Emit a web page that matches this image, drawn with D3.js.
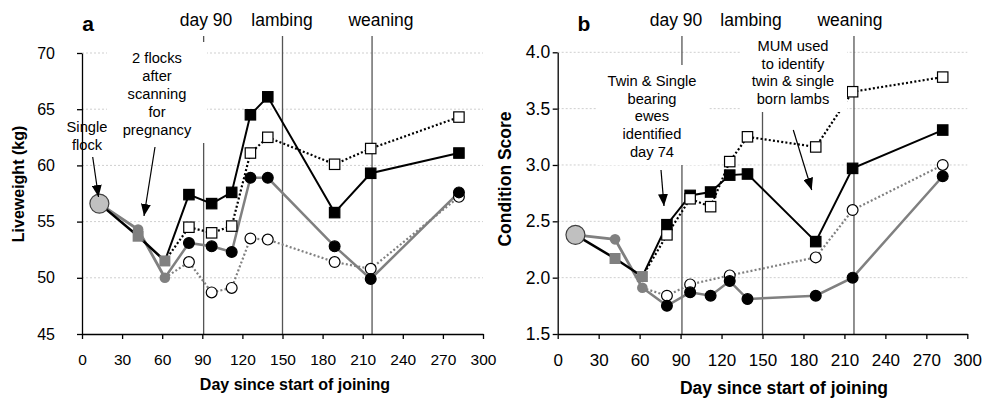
<!DOCTYPE html>
<html>
<head>
<meta charset="utf-8">
<script src="https://cdn.jsdelivr.net/npm/d3@7"></script>
<style>
  body { margin: 0; background: #fff; }
  svg { font-family: "Liberation Sans", Arial, sans-serif; }
</style>
</head>
<body>
<script>
// sampling days (days since start of joining)
const preDays = [13, 42, 62];
const postDays = [80, 97, 112, 126, 139, 189, 216, 282];
const eventDays = [91, 150, 217];
const eventNames = ["day 90", "lambing", "weaning"];

// panel a: liveweight (kg)
const lwTwinPre = [56.6, 53.7, 51.5];
const lwSinglePre = [56.6, 54.3, 50.0];
const lwTwinFilled = [57.4, 56.6, 57.6, 64.5, 66.1, 55.8, 59.3, 61.1];
const lwTwinOpen = [54.5, 54.0, 54.6, 61.1, 62.5, 60.1, 61.5, 64.3];
const lwSingleFilled = [53.1, 52.8, 52.3, 58.9, 58.9, 52.8, 49.9, 57.6];
const lwSingleOpen = [51.4, 48.7, 49.1, 53.5, 53.4, 51.4, 50.8, 57.2];

// panel b: condition score
const csTwinPre = [2.38, 2.17, 2.01];
const csSinglePre = [2.38, 2.34, 1.91];
const csTwinFilled = [2.47, 2.73, 2.76, 2.91, 2.92, 2.32, 2.97, 3.31];
const csTwinOpen = [2.38, 2.70, 2.63, 3.03, 3.25, 3.16, 3.65, 3.78];
const csSingleFilled = [1.75, 1.87, 1.84, 1.97, 1.81, 1.84, 2.00, 2.90];
const csSingleOpen = [1.84, 1.94, null, 2.02, null, 2.18, 2.60, 3.00];

const xTicks = d3.range(0, 301, 30);
const grey = "#808080";

const panels = [
  {
    label: "a", left: 82, right: 483, top: 53, bottom: 334,
    yDomain: [45, 70], yFormat: d3.format("d"), yTitle: "Liveweight (kg)",
    twinPre: lwTwinPre, singlePre: lwSinglePre,
    twinFilled: lwTwinFilled, twinOpen: lwTwinOpen,
    singleFilled: lwSingleFilled, singleOpen: lwSingleOpen,
    tickFont: 15.5, yTickFont: 16, yPad: 22, titleFont: 16,
    labelX: 88, xTitleX: 295, xTitleY: 390, yTitleX: 24, yTitleY: 184,
    headX: [206, 282, 381],
    notes: [
      { lines: ["Single", "flock"], x: 87, y: 132, lh: 18 },
      { lines: ["2 flocks", "after", "scanning", "for", "pregnancy"], x: 157, y: 63, lh: 18,
        box: [107, 42, 100, 101] }
    ],
    arrows: [[92.7, 157, 98.5, 197], [155, 147, 144, 216]]
  },
  {
    label: "b", left: 557.7, right: 967.3, top: 52.3, bottom: 334,
    yDomain: [1.5, 4.0], yFormat: d3.format(".1f"), yTitle: "Condition Score",
    twinPre: csTwinPre, singlePre: csSinglePre,
    twinFilled: csTwinFilled, twinOpen: csTwinOpen,
    singleFilled: csSingleFilled, singleOpen: csSingleOpen,
    tickFont: 17, yTickFont: 17.5, yPad: 2.5, titleFont: 17.5,
    labelX: 584, xTitleX: 784, xTitleY: 394, yTitleX: 511, yTitleY: 179,
    headX: [676, 751, 850],
    notes: [
      { lines: ["Twin & Single", "bearing", "ewes", "identified", "day 74"], x: 652, y: 86, lh: 17.7,
        box: [597, 65, 111, 100] },
      { lines: ["MUM used", "to identify", "twin & single", "born lambs"], x: 793, y: 51, lh: 17.7,
        box: [740, 33, 107, 79] }
    ],
    arrows: [[661, 170, 664, 206], [793.3, 130, 811.7, 190]]
  }
];

const svg = d3.select("body").append("svg")
  .attr("width", 984)
  .attr("height", 398);

svg.append("defs").append("marker")
  .attr("id", "arrow")
  .attr("viewBox", "0 0 12 10")
  .attr("refX", 12).attr("refY", 5)
  .attr("markerWidth", 12).attr("markerHeight", 10)
  .attr("markerUnits", "userSpaceOnUse")
  .attr("orient", "auto")
  .append("path")
  .attr("d", "M0,0 L12,5 L0,10 Z")
  .attr("fill", "#000");

panels.forEach(p => {
  const x = d3.scaleLinear().domain([0, 300]).range([p.left, p.right]);
  const y = d3.scaleLinear().domain(p.yDomain).range([p.bottom, p.top]);
  const yTicks = y.ticks(5);
  const g = svg.append("g");

  // dotted gridlines
  g.selectAll(".grid")
    .data(yTicks.slice(1))
    .enter()
    .append("line")
    .attr("x1", p.left).attr("x2", p.right)
    .attr("y1", d => y(d)).attr("y2", d => y(d))
    .attr("stroke", "#cfcfcf")
    .attr("stroke-dasharray", "2,2");

  // day 90 / lambing / weaning lines
  g.selectAll(".event")
    .data(eventDays)
    .enter()
    .append("line")
    .attr("x1", d => x(d)).attr("x2", d => x(d))
    .attr("y1", 36).attr("y2", p.bottom)
    .attr("stroke", "#555")
    .attr("stroke-width", 1.3);

  const line = d3.line().x(d => x(d[0])).y(d => y(d[1]));
  const pts = vals => postDays.map((d, i) => [d, vals[i]]).filter(d => d[1] != null);
  const start = arr => [preDays[2], arr[2]];

  const series = [
    { data: [start(p.singlePre)].concat(pts(p.singleOpen)), color: grey, width: 2.2, dash: "2,2.2", mark: "circle", fill: "#fff" },
    { data: [start(p.singlePre)].concat(pts(p.singleFilled)), color: grey, width: 2.5, dash: null, mark: "circle", fill: "#000" },
    { data: [start(p.twinPre)].concat(pts(p.twinFilled)), color: "#000", width: 2, dash: null, mark: "square", fill: "#000" },
    { data: [start(p.twinPre)].concat(pts(p.twinOpen)), color: "#000", width: 2.2, dash: "2,2.2", mark: "square", fill: "#fff" }
  ];

  // pre-scanning lines (single flock, then split)
  g.append("path")
    .attr("d", line(preDays.map((d, i) => [d, p.singlePre[i]])))
    .attr("fill", "none").attr("stroke", grey).attr("stroke-width", 2.8);
  g.append("path")
    .attr("d", line(preDays.map((d, i) => [d, p.twinPre[i]])))
    .attr("fill", "none").attr("stroke", "#000").attr("stroke-width", 2.5);

  series.forEach(s => {
    g.append("path")
      .attr("d", line(s.data))
      .attr("fill", "none")
      .attr("stroke", s.color)
      .attr("stroke-width", s.width)
      .attr("stroke-dasharray", s.dash);
  });

  // pre-scanning markers
  g.selectAll(".preSq")
    .data(preDays.slice(1).map((d, i) => [d, p.twinPre[i + 1]]))
    .enter()
    .append("rect")
    .attr("x", d => x(d[0]) - 5.5).attr("y", d => y(d[1]) - 5.5)
    .attr("width", 11).attr("height", 11)
    .attr("fill", grey);
  g.selectAll(".preCi")
    .data(preDays.slice(1).map((d, i) => [d, p.singlePre[i + 1]]))
    .enter()
    .append("circle")
    .attr("cx", d => x(d[0])).attr("cy", d => y(d[1]))
    .attr("r", 5.3)
    .attr("fill", grey);
  g.append("circle")
    .attr("cx", x(preDays[0])).attr("cy", y(p.singlePre[0]))
    .attr("r", 9.5)
    .attr("fill", "#c0c0c0")
    .attr("stroke", "#404040")
    .attr("stroke-width", 1.2);

  // series markers
  series.forEach(s => {
    const m = s.data.slice(1);
    if (s.mark === "circle") {
      g.selectAll(null).data(m).enter().append("circle")
        .attr("cx", d => x(d[0])).attr("cy", d => y(d[1]))
        .attr("r", 5.4)
        .attr("fill", s.fill).attr("stroke", "#000").attr("stroke-width", 1.2);
    } else {
      g.selectAll(null).data(m).enter().append("rect")
        .attr("x", d => x(d[0]) - 5.2).attr("y", d => y(d[1]) - 5.2)
        .attr("width", 10.4).attr("height", 10.4)
        .attr("fill", s.fill).attr("stroke", "#000").attr("stroke-width", 1.2);
    }
  });

  // axes
  const yAxis = g.append("g")
    .attr("transform", `translate(${p.left},0)`)
    .call(d3.axisLeft(y).tickValues(yTicks).tickFormat(p.yFormat)
      .tickSize(5).tickSizeOuter(0).tickPadding(p.yPad));
  yAxis.attr("font-size", p.yTickFont).attr("font-family", null);

  const xAxis = g.append("g")
    .attr("transform", `translate(0,${p.bottom})`)
    .call(d3.axisBottom(x).tickValues(xTicks).tickSize(5).tickSizeOuter(0).tickPadding(15));
  xAxis.attr("font-size", p.tickFont).attr("font-family", null);

  [yAxis, xAxis].forEach(a => {
    a.selectAll("path, line").attr("stroke", "#000").attr("stroke-width", 1.3);
    a.selectAll("text").attr("fill", "#000");
  });

  // annotation boxes, text and arrows
  p.notes.forEach(n => {
    if (n.box) {
      g.append("rect")
        .attr("x", n.box[0]).attr("y", n.box[1])
        .attr("width", n.box[2]).attr("height", n.box[3])
        .attr("fill", "#fff");
    }
    g.selectAll(null).data(n.lines).enter().append("text")
      .attr("x", n.x)
      .attr("y", (d, i) => n.y + i * n.lh)
      .attr("text-anchor", "middle")
      .attr("font-size", 14.7)
      .text(d => d);
  });

  g.selectAll(".arrow")
    .data(p.arrows)
    .enter()
    .append("line")
    .attr("x1", d => d[0]).attr("y1", d => d[1])
    .attr("x2", d => d[2]).attr("y2", d => d[3])
    .attr("stroke", "#000")
    .attr("stroke-width", 1.2)
    .attr("marker-end", "url(#arrow)");

  // headings
  g.selectAll(".head")
    .data(eventNames)
    .enter()
    .append("text")
    .attr("x", (d, i) => p.headX[i])
    .attr("y", 26)
    .attr("text-anchor", "middle")
    .attr("font-size", 17.5)
    .text(d => d);

  g.append("text")
    .attr("x", p.labelX).attr("y", 30.5)
    .attr("text-anchor", "middle")
    .attr("font-size", 21).attr("font-weight", "bold")
    .text(p.label);

  // axis titles
  g.append("text")
    .attr("x", p.xTitleX).attr("y", p.xTitleY)
    .attr("text-anchor", "middle")
    .attr("font-size", p.titleFont).attr("font-weight", "bold")
    .text("Day since start of joining");

  g.append("text")
    .attr("transform", `translate(${p.yTitleX},${p.yTitleY}) rotate(-90)`)
    .attr("text-anchor", "middle")
    .attr("font-size", p.titleFont).attr("font-weight", "bold")
    .text(p.yTitle);
});
</script>
</body>
</html>
